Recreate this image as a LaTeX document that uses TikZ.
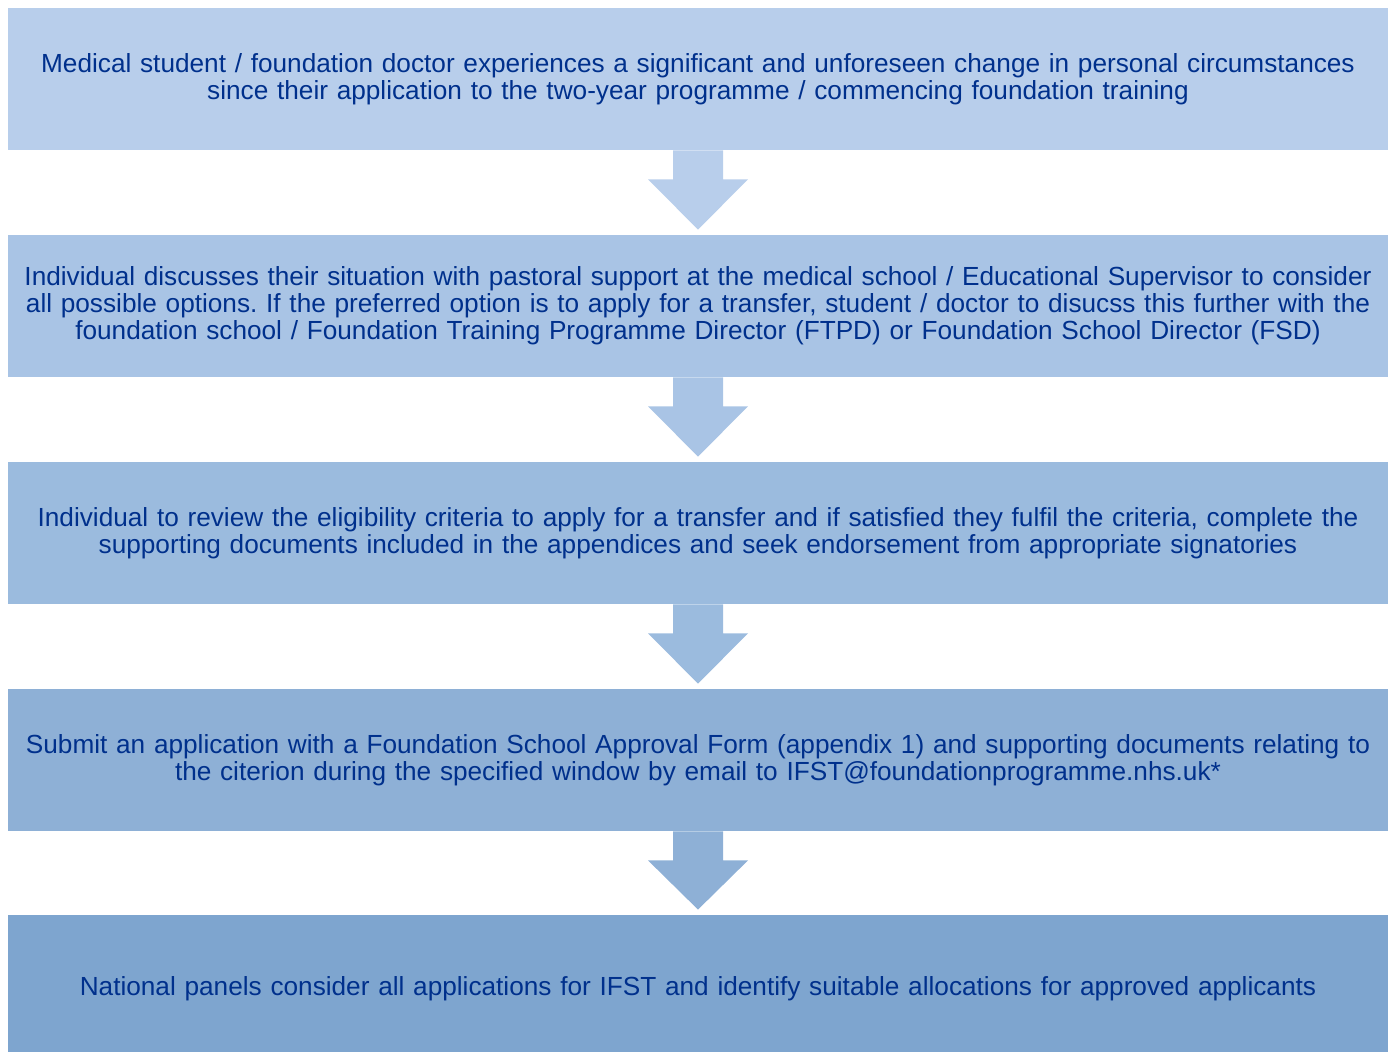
\documentclass[tikz,border=0pt]{standalone}
\usepackage{fontspec}
\setmainfont{Liberation Sans}
\frenchspacing
\definecolor{stepA}{RGB}{184, 206, 235}
\definecolor{stepB}{RGB}{169, 196, 229}
\definecolor{stepC}{RGB}{155, 187, 222}
\definecolor{stepD}{RGB}{142, 176, 214}
\definecolor{stepE}{RGB}{126, 165, 207}
\definecolor{navytext}{RGB}{0, 48, 140}
\usetikzlibrary{calc}

\begin{document}
\begin{tikzpicture}[x=0.5pt, y=-0.5pt,
  stepbox/.style={fill=#1, minimum width=690pt, minimum height=71pt, inner sep=0pt,
    text width=684pt, align=center, text=navytext, font=\fontsize{13.1}{13.6}\selectfont}]
  \useasboundingbox (0,0) rectangle (1394,1052);

  % Steps
  \node[stepbox=stepA] (s1) at (698, 79) {
    Medical student / foundation doctor experiences a significant and unforeseen change in personal circumstances\\
    since their application to the two-year programme / commencing foundation training
  };
  \node[stepbox=stepB] (s2) at (698, 306) {
    Individual discusses their situation with pastoral support at the medical school / Educational Supervisor to consider\\
    all possible options. If the preferred option is to apply for a transfer, student / doctor to disucss this further with the\\
    foundation school / Foundation Training Programme Director (FTPD) or Foundation School Director (FSD)
  };
  \node[stepbox=stepC] (s3) at (698, 533) {
    Individual to review the eligibility criteria to apply for a transfer and if satisfied they fulfil the criteria, complete the\\
    supporting documents included in the appendices and seek endorsement from appropriate signatories
  };
  \node[stepbox=stepD] (s4) at (698, 760) {
    Submit an application with a Foundation School Approval Form (appendix 1) and supporting documents relating to\\
    the citerion during the specified window by email to IFST@foundationprogramme.nhs.uk*
  };
  \node[stepbox=stepE, minimum height=74pt] (s5) at (698, 989) {
    National panels consider all applications for IFST and identify suitable allocations for approved applicants
  };

  % Block arrows between steps
  \foreach \a/\b/\c in {s1/s2/stepA, s2/s3/stepB, s3/s4/stepC, s4/s5/stepD}
    \fill[\c] ($(\a.south)+(-25,0)$) -- ++(0,29) -- ++(-25,0) -- ($(\b.north)+(0,-5)$)
      -- ($(\a.south)+(50,29)$) -- ++(-25,0) -- ($(\a.south)+(25,0)$) -- cycle;
\end{tikzpicture}
\end{document}
